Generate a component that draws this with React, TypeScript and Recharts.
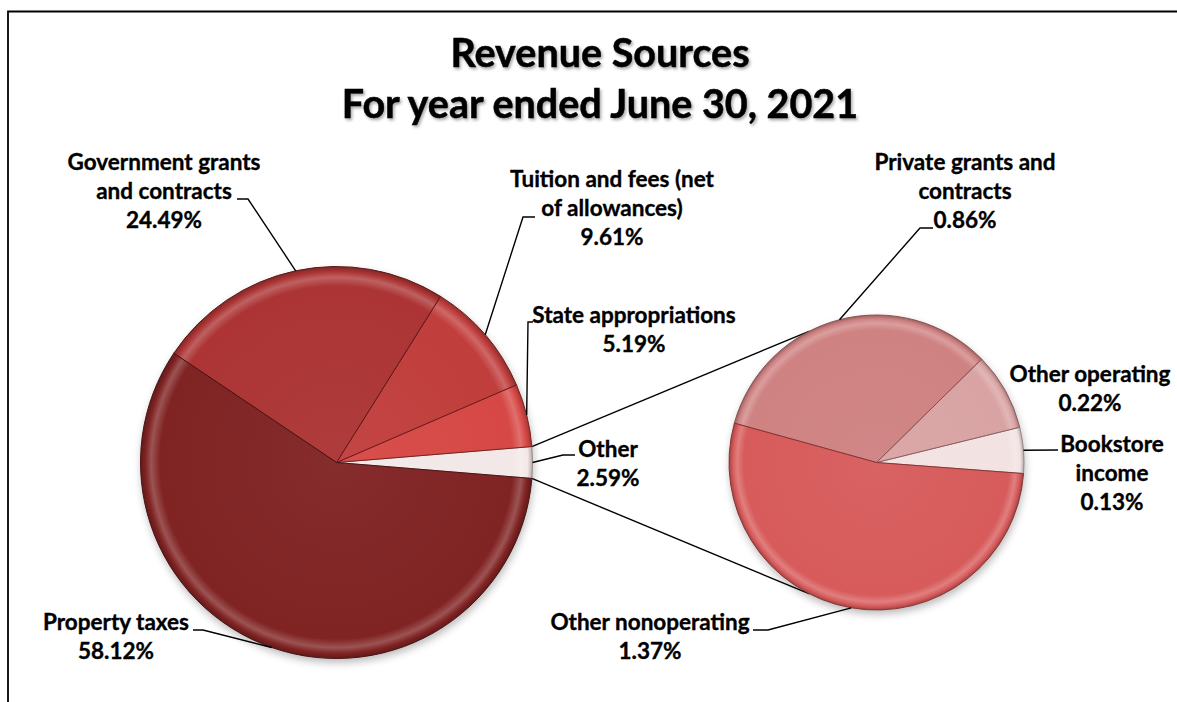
import React from 'react';
import { PieChart, Pie, Cell, Customized } from 'recharts';

// ---------- data ----------
const TITLE_LINES = ['Revenue Sources', 'For year ended June 30, 2021'];

const MAIN_NAMES = [
  'Other',
  'State appropriations',
  'Tuition and fees (net of allowances)',
  'Government grants and contracts',
  'Property taxes',
];
const MAIN_VALUES = [2.59, 5.19, 9.61, 24.49, 58.12];
const MAIN_LABEL_LINES = [
  ['Other'],
  ['State appropriations'],
  ['Tuition and fees (net', 'of allowances)'],
  ['Government grants', 'and contracts'],
  ['Property taxes'],
];

const SECONDARY_NAMES = [
  'Bookstore income',
  'Other operating',
  'Private grants and contracts',
  'Other nonoperating',
];
const SECONDARY_VALUES = [0.13, 0.22, 0.86, 1.37];
const SECONDARY_LABEL_LINES = [
  ['Bookstore', 'income'],
  ['Other operating'],
  ['Private grants and', 'contracts'],
  ['Other nonoperating'],
];

// ---------- styles / layout ----------
const W = 1177;
const H = 702;
const FONT = 'Lato, Carlito, Calibri, "Open Sans", sans-serif';
const LABEL_SIZE = 22.5;
const LINE_H = 29;
const TITLE_SIZE = 39.5;

const MAIN_COLORS = ['#F3E8E8', '#D64845', '#C03E3C', '#AC3434', '#802323'];
const MAIN_EDGE = ['#9A8A8A', '#7A2020', '#6E1D1D', '#5E1818', '#4A1414'];
const SEC_COLORS = ['#F2E2E2', '#D9A3A3', '#CF8282', '#D75B5B'];
const SEC_EDGE = ['#9A8888', '#8A6060', '#8A5050', '#8A3434'];

const MAIN = { cx: 336.5, cy: 462.5, r: 196 };
const SEC = { cx: 876.5, cy: 462.5, r: 147.5 };
const SEC_START = -4.3;
const SERIES_ANGLE = 117;

type LabelLayout = { x: number; y: number; leader?: number[][] };
const MAIN_LABELS: Record<string, LabelLayout> = {
  'Other': { x: 608, y: 457, leader: [[563, 455], [575, 455]] },
  'State appropriations': { x: 634, y: 323, leader: [[528, 322], [533, 322]] },
  'Tuition and fees (net of allowances)': { x: 612, y: 187, leader: [[523, 217], [535, 217]] },
  'Government grants and contracts': { x: 164, y: 170, leader: [[248, 199], [237, 199]] },
  'Property taxes': { x: 116, y: 630, leader: [[203, 630], [193, 630]] },
};
const SEC_LABELS: Record<string, LabelLayout> = {
  'Bookstore income': { x: 1112, y: 452, leader: [[1058, 450]] },
  'Other operating': { x: 1090, y: 382 },
  'Private grants and contracts': { x: 965, y: 170, leader: [[920, 228], [933, 228]] },
  'Other nonoperating': { x: 650, y: 630, leader: [[768, 630], [753, 630]] },
};

// ---------- helpers ----------
const RAD = Math.PI / 180;
const sum = (a: number[]) => a.reduce((s, v) => s + v, 0);
const polar = (cx: number, cy: number, r: number, deg: number) => [
  cx + r * Math.cos(-deg * RAD),
  cy + r * Math.sin(-deg * RAD),
];
const mix = (hex: string, target: number, t: number) => {
  const n = parseInt(hex.slice(1), 16);
  const c = [(n >> 16) & 255, (n >> 8) & 255, n & 255].map((v) => Math.round(v + (target - v) * t));
  return `rgb(${c[0]},${c[1]},${c[2]})`;
};

const mainTotal = sum(MAIN_VALUES);
const MAIN_START = -(MAIN_VALUES[0] / mainTotal) * 180;
const OTHER_HALF = (MAIN_VALUES[0] / mainTotal) * 180;

const mainData = MAIN_NAMES.map((name, i) => ({ name, value: MAIN_VALUES[i], lines: MAIN_LABEL_LINES[i] }));
const secData = SECONDARY_NAMES.map((name, i) => ({ name, value: SECONDARY_VALUES[i], lines: SECONDARY_LABEL_LINES[i] }));

const makeLabel = (layout: Record<string, LabelLayout>) => (props: any) => {
  const { cx, cy, midAngle, outerRadius } = props;
  const entry = props.payload ?? props;
  const L = layout[entry.name];
  if (!L) return null;
  const [ex, ey] = polar(cx, cy, outerRadius, midAngle);
  const lines: string[] = entry.lines;
  return (
    <g>
      {L.leader && (
        <polyline
          points={[[ex, ey], ...L.leader].map((p) => p.join(',')).join(' ')}
          fill="none"
          stroke="#000"
          strokeWidth={1.4}
        />
      )}
      <text
        x={L.x}
        y={L.y}
        textAnchor="middle"
        fontFamily={FONT}
        fontWeight={700}
        fontSize={LABEL_SIZE}
        fill="#000"
        stroke="#000"
        strokeWidth={0.35}
      >
        {lines.map((l, i) => (
          <tspan key={i} x={L.x} dy={i === 0 ? 0 : LINE_H}>
            {l}
          </tspan>
        ))}
        <tspan x={L.x} dy={LINE_H}>{`${Number(entry.value).toFixed(2)}%`}</tspan>
      </text>
    </g>
  );
};

const Background = () => {
  const [ax, ay] = polar(MAIN.cx, MAIN.cy, MAIN.r, OTHER_HALF);
  const [bx, by] = polar(MAIN.cx, MAIN.cy, MAIN.r, -OTHER_HALF);
  const [cx1, cy1] = polar(SEC.cx, SEC.cy, SEC.r, SERIES_ANGLE);
  const [cx2, cy2] = polar(SEC.cx, SEC.cy, SEC.r, -SERIES_ANGLE);
  return (
    <g>
      <path d={`M8,${H} L8,11.5 L${W},11.5`} fill="none" stroke="#000" strokeWidth={1.8} />
      <text
        x={600}
        textAnchor="middle"
        fontFamily={FONT}
        fontWeight={700}
        fontSize={TITLE_SIZE}
        fill="#000"
        stroke="#000"
        strokeWidth={0.5}
        filter="url(#textShadow)"
      >
        <tspan x={600} y={67}>{TITLE_LINES[0]}</tspan>
        <tspan x={600} y={118}>{TITLE_LINES[1]}</tspan>
      </text>
      <circle cx={MAIN.cx + 1} cy={MAIN.cy + 4} r={MAIN.r} fill="#000" opacity={0.28} filter="url(#blur)" />
      <circle cx={SEC.cx + 1} cy={SEC.cy + 4} r={SEC.r} fill="#000" opacity={0.28} filter="url(#blur)" />
      <line x1={ax} y1={ay} x2={cx1} y2={cy1} stroke="#000" strokeWidth={1.4} />
      <line x1={bx} y1={by} x2={cx2} y2={cy2} stroke="#000" strokeWidth={1.4} />
    </g>
  );
};

const Lighting = () => (
  <g pointerEvents="none">
    <circle cx={MAIN.cx} cy={MAIN.cy} r={MAIN.r - 1} fill="url(#shade)" />
    <circle cx={SEC.cx} cy={SEC.cy} r={SEC.r - 1} fill="url(#shade)" />
  </g>
);

const gradStops = (base: string) => (
  <>
    <stop offset="0" stopColor={mix(base, 255, 0.04)} />
    <stop offset="0.9" stopColor={base} />
    <stop offset="0.945" stopColor={mix(base, 255, 0.22)} />
    <stop offset="0.975" stopColor={base} />
    <stop offset="1" stopColor={mix(base, 0, 0.25)} />
  </>
);

export default function App() {
  return (
    <div style={{ position: 'absolute', left: 0, top: 0, width: W, height: H, background: '#fff' }}>
      <PieChart width={W} height={H} margin={{ top: 0, right: 0, bottom: 0, left: 0 }}>
        <defs>
          <filter id="textShadow" x="-10%" y="-20%" width="120%" height="150%">
            <feDropShadow dx="1.5" dy="2" stdDeviation="1.5" floodColor="#000" floodOpacity="0.35" />
          </filter>
          <filter id="blur" x="-20%" y="-20%" width="140%" height="140%">
            <feGaussianBlur stdDeviation="4" />
          </filter>
          <linearGradient id="shade" x1="0" y1="0" x2="0" y2="1">
            <stop offset="0" stopColor="#fff" stopOpacity={0.1} />
            <stop offset="0.45" stopColor="#fff" stopOpacity={0} />
            <stop offset="1" stopColor="#000" stopOpacity={0.1} />
          </linearGradient>
          {MAIN_COLORS.map((c, i) => (
            <radialGradient key={`m${i}`} id={`gm${i}`} gradientUnits="userSpaceOnUse" cx={MAIN.cx} cy={MAIN.cy} r={MAIN.r}>
              {gradStops(c)}
            </radialGradient>
          ))}
          {SEC_COLORS.map((c, i) => (
            <radialGradient key={`s${i}`} id={`gs${i}`} gradientUnits="userSpaceOnUse" cx={SEC.cx} cy={SEC.cy} r={SEC.r}>
              {gradStops(c)}
            </radialGradient>
          ))}
        </defs>
        <Customized component={Background} />
        <Pie
          data={mainData}
          dataKey="value"
          nameKey="name"
          cx={MAIN.cx}
          cy={MAIN.cy}
          outerRadius={MAIN.r}
          startAngle={MAIN_START}
          endAngle={MAIN_START + 360}
          isAnimationActive={false}
          label={makeLabel(MAIN_LABELS)}
          labelLine={false}
        >
          {mainData.map((d, i) => (
            <Cell key={d.name} fill={`url(#gm${i})`} stroke={MAIN_EDGE[i]} strokeWidth={1} />
          ))}
        </Pie>
        <Pie
          data={secData}
          dataKey="value"
          nameKey="name"
          cx={SEC.cx}
          cy={SEC.cy}
          outerRadius={SEC.r}
          startAngle={SEC_START}
          endAngle={SEC_START + 360}
          isAnimationActive={false}
          label={makeLabel(SEC_LABELS)}
          labelLine={false}
        >
          {secData.map((d, i) => (
            <Cell key={d.name} fill={`url(#gs${i})`} stroke={SEC_EDGE[i]} strokeWidth={1} />
          ))}
        </Pie>
        <Customized component={Lighting} />
      </PieChart>
    </div>
  );
}
